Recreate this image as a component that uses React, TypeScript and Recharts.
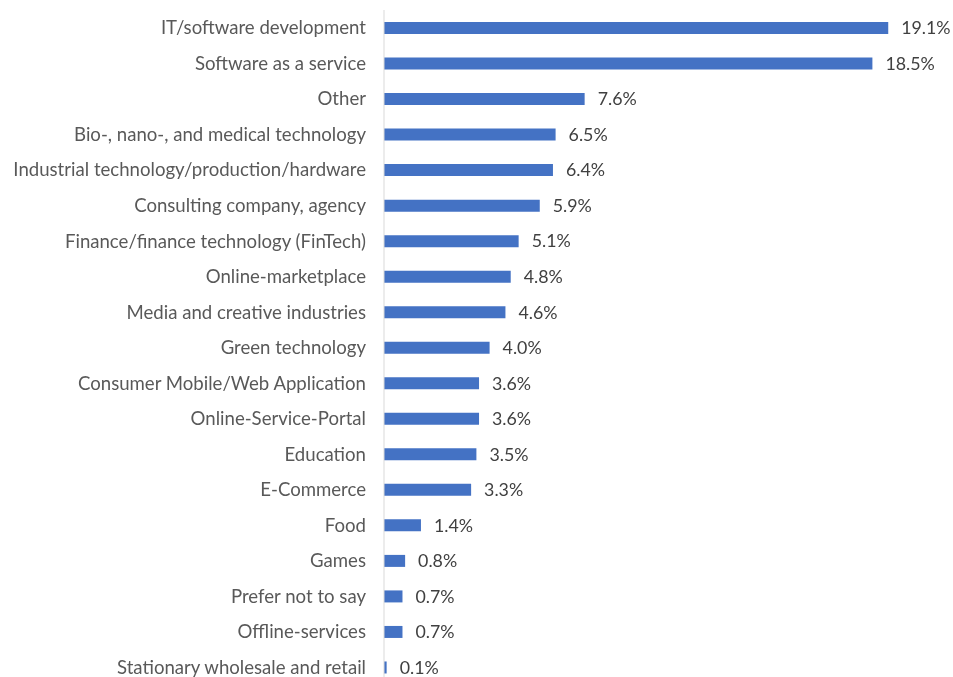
import { BarChart, Bar, XAxis, YAxis, LabelList } from "recharts";

const industries = [
  "IT/software development",
  "Software as a service",
  "Other",
  "Bio-, nano-, and medical technology",
  "Industrial technology/production/hardware",
  "Consulting company, agency",
  "Finance/finance technology (FinTech)",
  "Online-marketplace",
  "Media and creative industries",
  "Green technology",
  "Consumer Mobile/Web Application",
  "Online-Service-Portal",
  "Education",
  "E-Commerce",
  "Food",
  "Games",
  "Prefer not to say",
  "Offline-services",
  "Stationary wholesale and retail",
];

const shares = [19.1, 18.5, 7.6, 6.5, 6.4, 5.9, 5.1, 4.8, 4.6, 4.0, 3.6, 3.6, 3.5, 3.3, 1.4, 0.8, 0.7, 0.7, 0.1];

const data = industries.map((name, i) => ({ name, share: shares[i] }));

const font = "Lato, sans-serif";

// fixed so the chart's overflow past the window bottom does not add a scrollbar
const App = () => {
  return (
    <div style={{ position: "fixed", top: 8, left: 8 }}>
      <BarChart
        width={945}
        height={690}
        data={data}
        layout="vertical"
        margin={{ top: 2, right: 41, left: 0, bottom: 13 }}
        barCategoryGap={0}
      >
        <XAxis type="number" domain={[0, 20]} hide />
        <YAxis
          type="category"
          dataKey="name"
          width={376}
          tickSize={0}
          tickMargin={18}
          axisLine={{ stroke: "#d9d9d9" }}
          tickLine={false}
          interval={0}
          tick={{ fill: "#595959", fontSize: 18.6, fontFamily: font }}
        />
        <Bar dataKey="share" fill="#4472c4" barSize={12} isAnimationActive={false}>
          <LabelList
            dataKey="share"
            position="right"
            offset={13}
            formatter={(v: any) => `${Number(v).toFixed(1)}%`}
            style={{ fill: "#404040", fontSize: 17.8, fontFamily: font }}
          />
        </Bar>
      </BarChart>
    </div>
  );
};

export default App;
